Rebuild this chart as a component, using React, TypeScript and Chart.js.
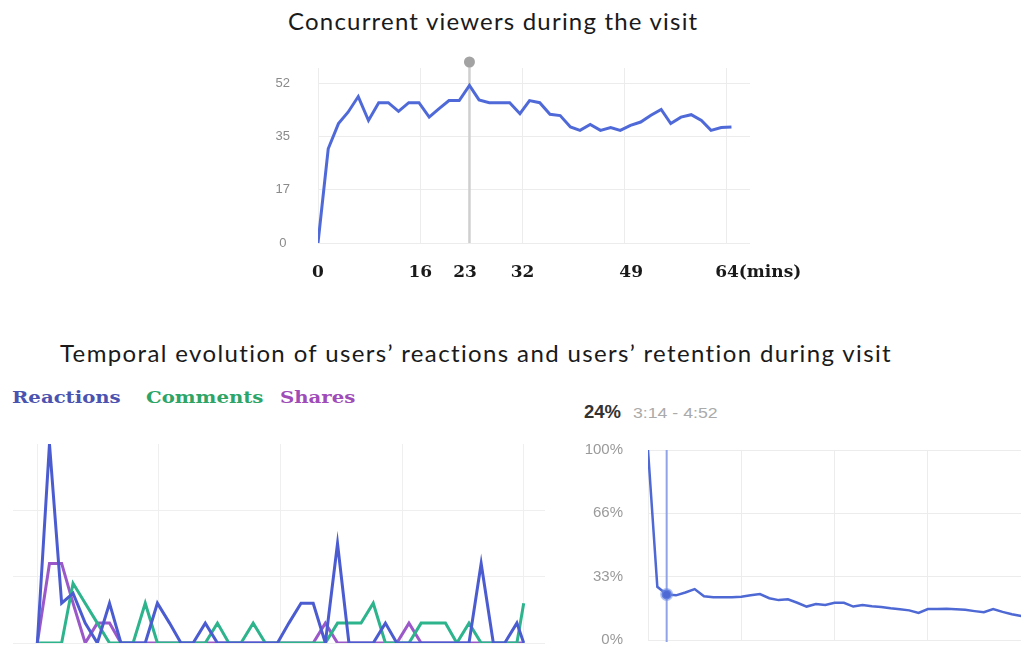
import React, { useEffect, useRef } from "react";
import { Chart, registerables } from "chart.js";

Chart.register(...registerables);

// ---------- text ----------
const TITLE_TOP = "Concurrent viewers during the visit";
const TITLE_BOTTOM = "Temporal evolution of users’ reactions and users’ retention during visit";

// ---------- top chart: concurrent viewers ----------
const VIEWER_TIMES = [
  0, 1.6, 3.2, 4.7, 6.3, 7.9, 9.5, 11.0, 12.6, 14.2, 15.8, 17.4, 18.9, 20.5,
  22.1, 23.7, 25.2, 26.8, 28.4, 30.0, 31.6, 33.1, 34.7, 36.3, 37.9, 39.5, 41.0,
  42.6, 44.2, 45.8, 47.3, 48.9, 50.5, 52.1, 53.7, 55.2, 56.8, 58.4, 60.0, 61.5,
  63.1, 64.7,
];
const VIEWERS = [
  0, 30.7, 38.9, 42.6, 47.7, 39.9, 45.7, 45.7, 42.9, 45.7, 45.7, 41.0, 43.7,
  46.4, 46.4, 51.3, 46.6, 45.7, 45.7, 45.7, 42.1, 46.4, 45.7, 41.9, 41.5, 37.8,
  36.7, 38.6, 36.7, 37.6, 36.7, 38.3, 39.4, 41.6, 43.5, 38.9, 41.0, 41.8, 39.9,
  36.7, 37.6, 37.8,
];
const VIEWER_Y_TICKS = [0, 17.33, 34.67, 52];
const VIEWER_GRID_MINUTES = [0, 16, 32, 48, 64];
const VIEWER_X_LABEL_VALUES = [0, 16, 23, 32, 49, 64];
const VIEWER_X_LABELS = ["0", "16", "23", "32", "49", "64(mins)"];

// ---------- bottom-left chart: reactions / comments / shares ----------
const ACTIVITY_TIMES = [
  0, 1.6, 3.2, 4.7, 6.3, 7.9, 9.5, 11.0, 12.6, 14.2, 15.8, 17.4, 18.9, 20.5,
  22.1, 23.7, 25.2, 26.8, 28.4, 30.0, 31.6, 33.1, 34.7, 36.3, 37.9, 39.5, 41.0,
  42.6, 44.2, 45.8, 47.3, 48.9, 50.5, 52.1, 53.7, 55.2, 56.8, 58.4, 60.0, 61.5,
  63.1, 64.0,
];
const REACTIONS = [
  0, 10, 2, 2.5, 1, 0, 2, 0, 0, 0, 2, 1, 0, 0, 1, 0, 0, 0, 0, 0, 0, 1, 2, 2, 0,
  5, 0, 0, 0, 1, 0, 0, 0, 0, 0, 0, 0, 4, 0, 0, 1, 0,
];
const COMMENTS = [
  0, 0, 0, 3, 2, 1, 0, 0, 0, 2, 0, 0, 0, 0, 0, 1, 0, 0, 1, 0, 0, 0, 0, 0, 0, 1,
  1, 1, 2, 0, 0, 0, 1, 1, 1, 0, 1, 0, 0, 0, 0, 2,
];
const SHARES = [
  0, 4, 4, 2, 0, 1, 1, 0, 0, 0, 0, 0, 0, 0, 0, 0, 0, 0, 0, 0, 0, 0, 0, 0, 1, 0,
  0, 0, 0, 0, 0, 1, 0, 0, 0, 0, 0, 0, 0, 0, 0, 0,
];
const ACTIVITY_NAMES = ["Reactions", "Comments", "Shares"];
const ACTIVITY_GRID_MINUTES = [0, 16, 32, 48, 64];
const ACTIVITY_Y_GRID = [0, 3.33, 6.67];

// ---------- bottom-right chart: retention ----------
const RETENTION = [
  100, 28, 24, 23.5, 25, 26.8, 23, 22.5, 22.5, 22.5, 22.8, 23.5, 24.2, 22,
  21, 21.4, 19.6, 17.6, 18.9, 18.4, 19.6, 19.6, 17.6, 18.4, 17.8, 17.4, 16.7,
  16.2, 15.6, 14.2, 16.3, 16.3, 16.5, 16.2, 15.9, 15.2, 14.6, 16.3, 14.8, 13.6,
  12.6,
];
const RETENTION_Y_TICKS = [0, 33.33, 66.67, 100];
const RETENTION_GRID_BINS = [0, 10, 20, 30, 40];
const RETENTION_HOVER_INDEX = 2;
const RETENTION_HOVER_VALUE = "24%";
const RETENTION_HOVER_RANGE = "3:14 - 4:52";

// ---------- styles ----------
const TOP_LINE = "#4f6ad8";
const ACTIVITY_COLORS = ["#4a5cd0", "#2db48c", "#9b58c9"];
const ACTIVITY_TEXT_COLORS = ["#4b53b0", "#2ea567", "#a04cb8"];
const RETENTION_LINE = "#4e68d4";
const GRID = "#ececec";

function useChart(config: any) {
  const ref = useRef<HTMLCanvasElement | null>(null);
  useEffect(() => {
    if (!ref.current) return;
    const chart = new Chart(ref.current, config());
    return () => chart.destroy();
  }, []);
  return ref;
}

const noVerticalPadding = (s: any) => {
  s.paddingTop = 0;
  s.paddingBottom = 0;
};

const viewerPlugin = {
  id: "viewerDeco",
  beforeDatasetsDraw(chart: any) {
    const { ctx, chartArea } = chart;
    const xs = chart.scales.x;
    let peak = 0;
    VIEWERS.forEach((v, i) => {
      if (v > VIEWERS[peak]) peak = i;
    });
    const px = xs.getPixelForValue(VIEWER_TIMES[peak]);
    ctx.save();
    ctx.strokeStyle = "#cfcfcf";
    ctx.lineWidth = 2.5;
    ctx.beginPath();
    ctx.moveTo(px, chartArea.top - 6);
    ctx.lineTo(px, chartArea.bottom);
    ctx.stroke();
    ctx.fillStyle = "#a3a3a3";
    ctx.beginPath();
    ctx.arc(px, chartArea.top - 6, 5.5, 0, Math.PI * 2);
    ctx.fill();
    ctx.restore();
  },
  afterDraw(chart: any) {
    const { ctx, chartArea } = chart;
    const xs = chart.scales.x;
    ctx.save();
    ctx.font = "bold 17px 'DejaVu Serif'";
    ctx.fillStyle = "#1a1a1a";
    ctx.textBaseline = "alphabetic";
    VIEWER_X_LABEL_VALUES.forEach((v, i) => {
      const x = xs.getPixelForValue(v);
      const label = VIEWER_X_LABELS[i];
      if (i === VIEWER_X_LABELS.length - 1) {
        const num = String(v);
        ctx.textAlign = "left";
        ctx.fillText(label, x - ctx.measureText(num).width / 2, chartArea.bottom + 34);
      } else {
        ctx.textAlign = "center";
        ctx.fillText(label, x, chartArea.bottom + 34);
      }
    });
    ctx.restore();
  },
};

const retentionPlugin = {
  id: "retentionHover",
  beforeDatasetsDraw(chart: any) {
    const { ctx, chartArea } = chart;
    const x = chart.scales.x.getPixelForValue(RETENTION_HOVER_INDEX);
    ctx.save();
    ctx.strokeStyle = "#8fa3e6";
    ctx.lineWidth = 2;
    ctx.beginPath();
    ctx.moveTo(x, chartArea.top);
    ctx.lineTo(x, chartArea.bottom + 2);
    ctx.stroke();
    ctx.restore();
  },
};

function ViewersChart() {
  const ref = useChart(() => ({
    type: "line",
    data: {
      datasets: [
        {
          data: VIEWER_TIMES.map((t, i) => ({ x: t, y: VIEWERS[i] })),
          borderColor: TOP_LINE,
          borderWidth: 3,
          pointRadius: 0,
          tension: 0,
        },
      ],
    },
    options: {
      animation: false,
      responsive: false,
      events: [],
      layout: { padding: { top: 18, right: 80, bottom: 47, left: 0 } },
      plugins: { legend: { display: false }, tooltip: { enabled: false } },
      scales: {
        x: {
          type: "linear",
          min: 0,
          max: 67.6,
          afterBuildTicks: (s: any) => {
            s.ticks = VIEWER_GRID_MINUTES.map((v) => ({ value: v }));
          },
          ticks: { display: false },
          grid: { color: GRID, drawTicks: false },
          border: { display: false },
          afterFit: (s: any) => {
            s.height = 0;
          },
        },
        y: {
          type: "linear",
          min: 0,
          max: 57,
          afterBuildTicks: (s: any) => {
            s.ticks = VIEWER_Y_TICKS.map((v) => ({ value: v }));
          },
          ticks: {
            padding: 28,
            crossAlign: "center",
            color: "#8a8a8a",
            font: { family: "'Liberation Sans', Arial", size: 13 },
            callback: (v: number) => String(Math.round(v)),
          },
          grid: { color: GRID, drawTicks: false },
          border: { display: false },
          afterFit: (s: any) => {
            s.width = 68;
            noVerticalPadding(s);
          },
        },
      },
    },
    plugins: [viewerPlugin],
  }));
  return (
    <canvas
      ref={ref}
      width={580}
      height={240}
      style={{ position: "absolute", left: 250, top: 50, width: 580, height: 240 }}
    />
  );
}

function ActivityChart() {
  const series = [REACTIONS, COMMENTS, SHARES];
  const ref = useChart(() => ({
    type: "line",
    data: {
      datasets: series.map((vals, k) => ({
        label: ACTIVITY_NAMES[k],
        data: ACTIVITY_TIMES.map((t, i) => ({ x: t, y: vals[i] })),
        borderColor: ACTIVITY_COLORS[k],
        borderWidth: 3,
        pointRadius: 0,
        tension: 0,
      })),
    },
    options: {
      animation: false,
      responsive: false,
      events: [],
      layout: { padding: { top: 14, right: 15, bottom: 7, left: 13 } },
      plugins: { legend: { display: false }, tooltip: { enabled: false } },
      scales: {
        x: {
          type: "linear",
          min: -3.2,
          max: 66.8,
          afterBuildTicks: (s: any) => {
            s.ticks = ACTIVITY_GRID_MINUTES.map((v) => ({ value: v }));
          },
          ticks: { display: false },
          grid: { color: "#efefef", drawTicks: false },
          border: { display: false },
          afterFit: (s: any) => {
            s.height = 0;
          },
        },
        y: {
          type: "linear",
          min: 0,
          max: 10,
          afterBuildTicks: (s: any) => {
            s.ticks = ACTIVITY_Y_GRID.map((v) => ({ value: v }));
          },
          ticks: { display: false },
          grid: { color: "#efefef", drawTicks: false },
          border: { display: false },
          afterFit: (s: any) => {
            s.width = 0;
            noVerticalPadding(s);
          },
        },
      },
    },
  }));
  return (
    <canvas
      ref={ref}
      width={560}
      height={220}
      style={{ position: "absolute", left: 0, top: 430, width: 560, height: 220 }}
    />
  );
}

function RetentionChart() {
  const ref = useChart(() => ({
    type: "line",
    data: {
      datasets: [
        {
          data: RETENTION.map((v, i) => ({ x: i, y: v })),
          borderColor: RETENTION_LINE,
          borderWidth: 2.5,
          tension: 0,
          pointRadius: (c: any) => (c.dataIndex === RETENTION_HOVER_INDEX ? 5 : 0),
          pointBackgroundColor: RETENTION_LINE,
          pointBorderColor: "rgba(110,140,230,0.55)",
          pointBorderWidth: 3,
        },
      ],
    },
    options: {
      animation: false,
      responsive: false,
      events: [],
      layout: { padding: { top: 20, right: 0, bottom: 10, left: 0 } },
      plugins: { legend: { display: false }, tooltip: { enabled: false } },
      scales: {
        x: {
          type: "linear",
          min: 0,
          max: 44.16,
          afterBuildTicks: (s: any) => {
            s.ticks = RETENTION_GRID_BINS.map((v) => ({ value: v }));
          },
          ticks: { display: false },
          grid: { color: GRID, drawTicks: false },
          border: { display: false },
          afterFit: (s: any) => {
            s.height = 0;
          },
        },
        y: {
          type: "linear",
          min: 0,
          max: 100,
          afterBuildTicks: (s: any) => {
            s.ticks = RETENTION_Y_TICKS.map((v) => ({ value: v }));
          },
          ticks: {
            padding: 25,
            color: "#9a9a9a",
            font: { family: "'Liberation Sans', Arial", size: 15 },
            callback: (v: number) => Math.floor(v) + "%",
          },
          grid: { color: GRID, drawTicks: false },
          border: { display: false },
          afterFit: (s: any) => {
            s.width = 88;
            noVerticalPadding(s);
          },
        },
      },
    },
    plugins: [retentionPlugin],
  }));
  return (
    <canvas
      ref={ref}
      width={500}
      height={220}
      style={{ position: "absolute", left: 560, top: 430, width: 500, height: 220 }}
    />
  );
}

const titleStyle: any = {
  position: "absolute",
  fontFamily: "Lato, 'Noto Sans', sans-serif",
  fontSize: 24,
  lineHeight: "29px",
  color: "#1a1a1a",
  whiteSpace: "nowrap",
};

export default function App() {
  const legendLefts = [12, 146, 280];
  return (
    <div
      style={{
        position: "fixed",
        left: 0,
        top: 0,
        width: 1021,
        height: 650,
        overflow: "hidden",
        background: "#fff",
      }}
    >
      <div style={{ ...titleStyle, left: 288, top: 6, letterSpacing: "1.2px" }}>{TITLE_TOP}</div>
      <ViewersChart />
      <div style={{ ...titleStyle, left: 60, top: 338, letterSpacing: "1.37px" }}>{TITLE_BOTTOM}</div>
      {ACTIVITY_NAMES.map((name, k) => (
        <div
          key={name}
          style={{
            position: "absolute",
            left: legendLefts[k],
            top: 388,
            fontFamily: "'DejaVu Serif', serif",
            fontWeight: "bold",
            fontSize: 16,
            lineHeight: "20px",
            color: ACTIVITY_TEXT_COLORS[k],
            transform: "scaleX(1.23)",
            transformOrigin: "left center",
            whiteSpace: "nowrap",
          }}
        >
          {name}
        </div>
      ))}
      <ActivityChart />
      <div
        style={{
          position: "absolute",
          left: 584,
          top: 401,
          fontFamily: "'Liberation Sans', Arial, sans-serif",
          fontWeight: "bold",
          fontSize: 18.5,
          color: "#333",
          lineHeight: "22px",
          whiteSpace: "nowrap",
        }}
      >
        {RETENTION_HOVER_VALUE}
      </div>
      <div
        style={{
          position: "absolute",
          left: 633,
          top: 402,
          fontFamily: "'Liberation Sans', Arial, sans-serif",
          fontSize: 14.5,
          color: "#aaa",
          lineHeight: "22px",
          whiteSpace: "nowrap",
          transform: "scaleX(1.22)",
          transformOrigin: "left center",
        }}
      >
        {RETENTION_HOVER_RANGE}
      </div>
      <RetentionChart />
    </div>
  );
}
